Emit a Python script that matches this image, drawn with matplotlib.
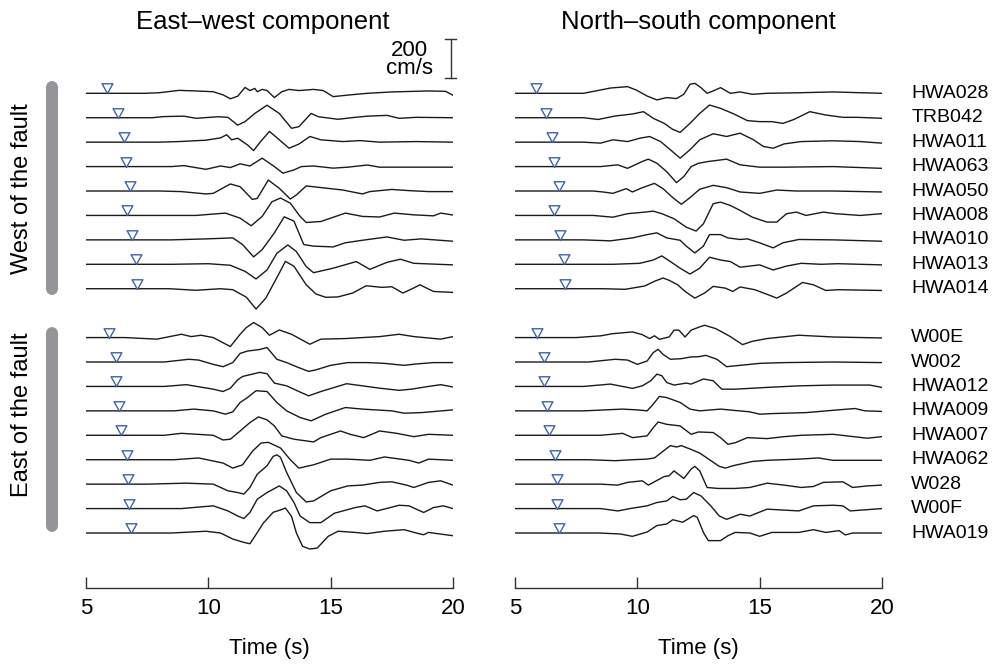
import numpy as np
import matplotlib.pyplot as plt
from matplotlib.lines import Line2D
from matplotlib.path import Path

plt.rcParams['font.family'] = ['Liberation Sans', 'DejaVu Sans']

# station order, top to bottom
west_stations = ['HWA028', 'TRB042', 'HWA011', 'HWA063', 'HWA050',
                 'HWA008', 'HWA010', 'HWA013', 'HWA014']
east_stations = ['W00E', 'W002', 'HWA012', 'HWA009', 'HWA007',
                 'HWA062', 'W028', 'W00F', 'HWA019']
stations = west_stations + east_stations
slots = list(range(9)) + list(range(10, 19))

# P arrival times (s), same order as stations
ew_arrival = [5.87, 6.29, 6.55, 6.62, 6.81, 6.66, 6.89, 7.03, 7.07,
              5.95, 6.23, 6.23, 6.35, 6.42, 6.66, 6.73, 6.76, 6.84]
ns_arrival = [5.86, 6.27, 6.53, 6.59, 6.80, 6.61, 6.84, 7.00, 7.04,
              5.91, 6.19, 6.19, 6.32, 6.38, 6.63, 6.70, 6.73, 6.81]

# velocity traces: (time s, velocity cm/s)
ew_traces = {
    'HWA028': [(5, 0), (7.4, 0), (8.0, 3), (8.8, 15), (9.5, 12), (10.2, 8), (10.6, -8), (10.9, -28),
               (11.2, -15), (11.5, 30), (11.7, 14), (11.9, 25), (12.0, 8), (12.2, 20), (12.4, 14),
               (12.7, -22), (13.0, 8), (13.3, 20), (13.7, 14), (14.3, 20), (14.7, 14), (15.1, -17),
               (15.8, -8), (16.5, 0), (17.5, 7), (19.0, 12), (19.7, 10), (20, -10)],
    'TRB042': [(5, 0), (7.7, 0), (8.2, 6), (9.0, 8), (9.5, -3), (10.4, 5), (10.8, 2), (11.2, -38),
               (11.5, -20), (11.9, 22), (12.4, 64), (12.9, 22), (13.4, -54), (13.7, -46), (14.2, 22),
               (14.5, 5), (15.3, -8), (16.0, 2), (16.5, 8), (17.3, 12), (17.8, -3), (18.5, 2), (20, 0)],
    'HWA011': [(5, 0), (8.0, 0), (8.8, 3), (9.9, 10), (10.5, 22), (10.75, 38), (10.95, 12), (11.2, 20),
               (11.6, -14), (11.85, -43), (12.15, 5), (12.5, 55), (12.9, 12), (13.3, -31), (13.7, -10),
               (14.15, 29), (14.6, 12), (15.5, 3), (16.2, 8), (17, 0), (18.5, 3), (20, 0)],
    'HWA063': [(5, 0), (8.5, 0), (9.0, 5), (9.9, -14), (10.5, 3), (10.9, -5), (11.3, 14), (11.7, 3),
               (12.2, 43), (12.7, 0), (13.05, -34), (13.5, -17), (13.8, 0), (14.3, 3), (15.1, -8),
               (15.7, -3), (16.5, 8), (17, -3), (18.5, -3), (20, -3)],
    'HWA050': [(5, 0), (8.0, 0), (8.9, -3), (9.9, -15), (10.2, -12), (10.9, 36), (11.3, 22), (11.8, -43),
               (12.0, -38), (12.45, 56), (12.9, 14), (13.35, -41), (13.6, -20), (14.0, 26), (14.5, 19),
               (15.5, 5), (16.3, -15), (16.6, -3), (17.5, 8), (18.2, 2), (19, -3), (20, -3)],
    'HWA008': [(5, 0), (8.2, 0), (9.5, 0), (10.7, 12), (11.3, -14), (11.75, -53), (12.2, -5), (12.6, 70),
               (12.95, 89), (13.35, 63), (13.75, -5), (14.0, -36), (14.6, -31), (15.6, 12), (16.3, -5),
               (17, -8), (17.6, 12), (18.4, 3), (19.2, -2), (19.5, 12), (20, 2)],
    'HWA010': [(5, 0), (8.5, 0), (9.9, 5), (11.0, 10), (11.4, -24), (11.85, -87), (12.2, -50), (12.7, 36),
               (13.1, 118), (13.5, 96), (13.9, -24), (14.3, -32), (15.1, -36), (15.6, -15), (16.3, -2),
               (17.3, 15), (18, -2), (18.7, 5), (20, -7)],
    'HWA013': [(5, 0), (8.5, 0), (10.0, 3), (10.9, -5), (11.5, -36), (11.95, -75), (12.4, -29), (12.8, 56),
               (13.25, 99), (13.6, 65), (14.0, -12), (14.3, -43), (15.1, -20), (16.05, 14), (16.6, -26),
               (17.3, 10), (17.85, 26), (18.4, 5), (20, -3)],
    'HWA014': [(5, 0), (8.4, 0), (9.5, -8), (10.5, 0), (11.0, -5), (11.55, -43), (11.95, -104), (12.35, -48),
               (12.9, 80), (13.15, 140), (13.5, 115), (14.0, 20), (14.4, -27), (14.8, -44), (15.3, -42),
               (15.9, -22), (16.45, 15), (17.1, 7), (17.5, 10), (17.95, -22), (18.3, -2), (18.65, 20),
               (19.2, -14), (20, -19)],
    'W00E': [(5, 0), (6.6, 0), (7.9, -8), (8.9, 17), (9.3, 5), (9.7, 12), (10.2, 0), (10.9, -46),
             (11.3, 17), (11.55, 51), (11.85, 77), (12.2, 51), (12.5, 12), (12.9, 39), (13.4, 17),
             (14.15, -34), (14.6, -8), (15.6, -5), (16.3, 0), (17, 5), (17.8, 17), (18.4, 5), (19.5, -8), (20, 5)],
    'W002': [(5, 0), (8.2, 0), (9.2, 14), (9.6, 10), (10.2, -12), (10.6, -24), (11.0, -3), (11.3, 44),
             (11.6, 56), (12.1, 64), (12.4, 74), (12.6, 44), (12.8, 14), (13.2, -3), (13.6, -24), (14.1, -48),
             (14.4, -40), (15.0, -17), (15.7, -3), (16.5, -3), (17.2, -7), (18.0, -17), (18.5, -10),
             (19.2, -3), (20, -3)],
    'HWA012': [(5, 0), (8.2, 0), (9.1, 9), (10.2, -14), (10.6, -26), (10.9, -9), (11.2, 34), (11.4, 51),
               (12.1, 72), (12.4, 65), (12.7, 17), (13.2, 3), (13.7, -26), (14.1, -48), (14.6, -26),
               (15.65, 14), (16.3, 3), (17, -9), (17.8, -20), (18.3, -14), (19, 0), (19.5, 9), (20, -3)],
    'HWA009': [(5, 0), (8.6, 0), (9.4, 9), (10.2, 0), (10.7, -17), (11.0, -5), (11.3, 43), (11.6, 68),
               (11.95, 103), (12.4, 99), (12.8, 43), (13.2, 0), (13.75, -34), (14.2, -51), (14.8, -17),
               (15.6, 17), (16.3, 9), (17.5, 0), (18.0, -12), (18.7, -9), (20, 5)],
    'HWA007': [(5, 0), (8.2, 0), (8.9, 10), (10.2, 0), (10.6, -24), (10.9, -20), (11.3, 22), (11.7, 65),
               (12.05, 94), (12.4, 79), (12.7, 48), (13.0, -3), (13.5, -20), (14.3, -34), (14.6, -12),
               (15.4, 22), (15.8, 5), (16.35, -12), (17.0, 22), (17.7, 10), (18.4, -7), (19.0, 5), (20, 0)],
    'HWA062': [(5, 0), (8.6, 0), (9.6, 9), (10.6, -17), (11.0, -43), (11.4, -26), (11.8, 43), (12.15, 85),
               (12.45, 89), (12.95, 60), (13.35, 0), (13.7, -43), (14.3, -26), (15.0, 3), (15.7, 3),
               (16.6, -3), (17.2, 14), (18.2, -3), (18.6, -17), (19.0, 3), (20, -3)],
    'W028': [(5, 0), (7.5, 0), (9.1, 5), (10.2, 0), (10.8, -34), (11.2, -43), (11.45, -51), (11.7, -17),
             (12.0, 51), (12.4, 94), (12.65, 142), (12.8, 150), (12.95, 137), (13.2, 60), (13.6, -43),
             (14.0, -91), (14.3, -86), (15.0, -34), (15.7, -9), (16.3, -5), (17.0, 9), (17.5, 12),
             (18.1, -5), (18.4, -17), (19.0, 9), (19.5, 17), (20, -5)],
    'W00F': [(5, 0), (8.9, 0), (10.2, 14), (10.8, -12), (11.2, -38), (11.45, -51), (11.7, -20), (12.0, 48),
             (12.4, 82), (12.9, 116), (13.2, 91), (13.5, 31), (13.75, -38), (14.15, -72), (14.6, -72),
             (15.15, -24), (16.0, 5), (16.4, 14), (16.9, -12), (17.8, 17), (18.2, 14), (18.8, -20),
             (19.2, 5), (19.6, 14), (20, 0)],
    'HWA019': [(5, 0), (8.5, 0), (9.9, 9), (10.5, 0), (11.0, -31), (11.45, -48), (11.7, -55), (11.9, -17),
               (12.25, 51), (12.65, 106), (12.95, 118), (13.15, 128), (13.4, 85), (13.6, 0), (13.85, -68),
               (14.15, -82), (14.45, -77), (14.9, -17), (15.3, 9), (16.0, 3), (16.5, -3), (17.2, 9),
               (18.0, 17), (18.5, 0), (18.8, -9), (19.0, 3), (20, -14)],
}

ns_traces = {
    'HWA028': [(5, 0), (7.1, 0), (7.8, 0), (8.5, 17), (8.9, 27), (9.6, 34), (9.95, 17), (10.4, -14),
               (10.8, -34), (11.2, -22), (11.6, -27), (11.9, -5), (12.15, 46), (12.35, 51), (12.6, 29),
               (12.85, 0), (13.1, 12), (13.4, 29), (13.8, 0), (14.2, 7), (14.7, -5), (15.3, 0),
               (16.7, 3), (18, 7), (19.1, 3), (20, 0)],
    'TRB042': [(5, 0), (7.8, 0), (8.4, -9), (9.1, 9), (9.8, 19), (10.25, 31), (10.65, -3), (11.1, -29),
               (11.45, -60), (11.75, -75), (12.15, -29), (12.55, 22), (12.95, 65), (13.4, 48), (13.9, 22),
               (14.5, -15), (15.0, -20), (15.5, -20), (15.95, -29), (16.4, -9), (17.05, 31), (17.7, 14),
               (18.4, 2), (19, 2), (20, -3)],
    'HWA011': [(5, 0), (7.8, 0), (8.5, -5), (9.0, 12), (9.6, 3), (10.1, 20), (10.5, 29), (10.95, 3),
               (11.35, -39), (11.75, -82), (12.15, -39), (12.55, 12), (13.1, 43), (13.65, 29), (14.2, 46),
               (14.75, 12), (15.15, -22), (15.55, -31), (16.0, -9), (16.7, 3), (18, 7), (19.1, 3), (20, -5)],
    'HWA063': [(5, 0), (8.5, 0), (9.2, 9), (9.6, -9), (10.2, 26), (10.45, 38), (10.8, 17), (11.2, -26),
               (11.6, -82), (11.9, -51), (12.2, 0), (12.5, 17), (12.9, 26), (13.65, 38), (14.2, 9),
               (15.0, -3), (16.0, -3), (18, 0), (20, -9)],
    'HWA050': [(5, 0), (8.2, 0), (8.6, -5), (9.0, -12), (9.55, 12), (9.8, -5), (10.2, 17), (10.7, 39),
               (11.05, 12), (11.45, -34), (11.8, -68), (12.15, -34), (12.55, 9), (13.1, 29), (13.65, 17),
               (14.2, -5), (15.0, -12), (15.7, 5), (16.5, 0), (18, 0), (20, -5)],
    'HWA008': [(5, 0), (8.2, 0), (9.0, -9), (9.6, 9), (10.3, 17), (10.65, 22), (11.0, 9), (11.5, -17),
               (12.0, -60), (12.4, -80), (12.7, -43), (13.1, 60), (13.4, 68), (13.8, 51), (14.2, 26),
               (14.7, -9), (15.3, -34), (15.7, -34), (16.1, 9), (16.5, 17), (16.9, 0), (17.6, 17),
               (18.1, 9), (19.1, 0), (20, 9)],
    'HWA010': [(5, 0), (7.8, 0), (8.9, -5), (9.8, 10), (10.4, 27), (10.8, 36), (11.2, 10), (11.75, -2),
               (12.0, -32), (12.35, -67), (12.7, -32), (12.95, 27), (13.4, 27), (13.7, 10), (14.2, 2),
               (14.5, 5), (15.0, -15), (15.55, -41), (15.95, -15), (16.6, 2), (18, 0), (20, -7)],
    'HWA013': [(5, 0), (8.0, 0), (9.0, 0), (10.1, 5), (10.65, 22), (11.0, 43), (11.35, 14), (11.75, -20),
               (12.15, -50), (12.55, -20), (12.95, 36), (13.4, 22), (13.8, 14), (14.2, -15), (15.0, -3),
               (15.55, -29), (16.1, -9), (16.7, 5), (17.5, 0), (18.2, 3), (20, -3)],
    'HWA014': [(5, 0), (8.6, 0), (9.5, -3), (10.3, 14), (10.7, 38), (11.05, 55), (11.3, 43), (11.65, 20),
               (11.95, -14), (12.35, -48), (12.75, -22), (13.1, 12), (13.6, 3), (13.9, -14), (14.2, 9),
               (14.8, -5), (15.35, -31), (15.7, -48), (16.1, -22), (16.75, 32), (17.2, 20), (17.7, -9),
               (18.2, -5), (20, -9)],
    'W00E': [(5, 0), (7.5, 0), (8.5, 9), (9.0, 20), (9.8, 29), (10.2, 15), (10.5, -5), (10.7, 9),
             (10.9, -9), (11.3, 3), (11.5, 38), (11.7, 38), (11.95, 3), (12.2, 38), (12.55, 55),
             (12.75, 63), (13.2, 46), (13.75, 9), (14.3, -36), (14.7, -19), (15.3, -5), (16.6, 12),
             (18, 3), (20, -2)],
    'W002': [(5, 0), (8.0, 0), (9.1, 14), (9.6, 10), (10.0, -12), (10.4, 5), (10.65, 48), (10.85, 65),
             (11.05, 39), (11.35, 14), (11.8, 17), (12.2, 26), (12.5, 27), (12.8, 34), (13.25, 14),
             (13.65, -24), (14.2, -17), (15.0, -7), (16.0, -3), (18, 0), (20, -3)],
    'HWA012': [(5, 0), (7.8, 0), (8.9, 12), (9.8, -10), (10.2, 3), (10.55, 29), (10.8, 63), (11.0, 55),
               (11.2, 20), (11.5, 7), (12.0, 17), (12.2, 12), (12.7, 38), (13.1, 29), (13.45, -14),
               (14.0, -14), (15.3, -5), (16.6, 3), (18, 7), (19.5, 7), (20, -5)],
    'HWA009': [(5, 0), (7.8, 0), (9.4, 9), (10.0, 5), (10.4, 0), (10.65, 34), (10.9, 74), (11.2, 68),
               (11.75, 43), (12.15, 9), (12.55, 0), (13.4, 9), (14.6, -5), (15.0, -17), (15.5, -14),
               (16.9, -9), (18.2, 5), (18.9, 12), (19.3, 0), (20, -3)],
    'HWA007': [(5, 0), (8.5, 0), (9.4, 10), (9.8, -12), (10.4, -3), (10.65, 39), (10.85, 68), (11.2, 56),
               (11.75, 48), (12.2, 5), (12.5, 17), (13.1, 14), (13.4, -12), (13.7, -46), (14.0, -38),
               (14.5, -12), (15.3, -17), (16.0, -7), (16.7, 0), (18.0, 5), (19.4, -15), (20, -7)],
    'HWA062': [(5, 0), (8.0, 0), (9.1, -5), (9.8, 0), (10.4, 3), (10.7, 9), (11.05, 43), (11.35, 72),
               (11.6, 65), (11.8, 72), (12.15, 55), (12.55, 34), (12.95, 0), (13.35, -34), (13.6, -43),
               (13.9, -31), (14.7, -9), (15.3, -3), (16.6, 3), (17.4, 9), (18, -3), (20, -3)],
    'W028': [(5, 0), (8.5, 0), (9.2, -5), (9.6, 9), (10.2, 17), (10.45, -5), (10.7, 12), (11.1, 39),
             (11.3, 43), (11.5, 68), (11.9, 29), (12.2, 77), (12.35, 91), (12.55, 68), (12.85, -17),
             (13.3, -22), (14.0, -22), (14.6, -17), (15.3, 5), (16.0, -5), (16.7, -17), (17.2, -12),
             (17.6, 9), (18.4, 12), (18.8, -17), (19.4, -9), (20, -5)],
    'W00F': [(5, 0), (8.5, 0), (9.2, -12), (9.7, 0), (10.4, 14), (10.8, 31), (11.2, 39), (11.45, 62),
             (11.75, 45), (12.0, 48), (12.3, 82), (12.6, 65), (13.0, 14), (13.35, -38), (13.65, -55),
             (14.2, -29), (14.6, -38), (15.3, -3), (16.6, -12), (17.2, 14), (18.0, 17), (18.4, 14),
             (18.7, -12), (20, 0)],
    'HWA019': [(5, 0), (8.4, 0), (9.3, -5), (9.8, -17), (10.4, 5), (10.8, 38), (11.2, 46), (11.45, 68),
               (11.85, 55), (12.3, 89), (12.45, 80), (12.7, 3), (12.9, -39), (13.4, -39), (13.7, -14),
               (14.0, 3), (14.6, 0), (15.0, -17), (15.5, 3), (16.6, 3), (17.2, 17), (17.7, 3),
               (18.25, 12), (18.5, -10), (18.8, 0), (20, 0)],
}

spacing = 125.0        # cm/s between neighbouring traces
W, H = 998, 666        # figure size in pixels

fig = plt.figure(figsize=(W / 100, H / 100), dpi=100)

# axes placed in pixel terms: traces from y=93 (top) to y=533, axis line at y=588
px_per_unit = (533.0 - 93.3) / (18 * spacing)
y_bot = -(588.0 - 93.3) / px_per_unit
y_top = (93.3 - 30.0) / px_per_unit
ax_b = (H - 588.0) / H
ax_h = (588.0 - 30.0) / H

ax_ew = fig.add_axes([86 / W, ax_b, 367 / W, ax_h])
ax_ns = fig.add_axes([515 / W, ax_b, 367 / W, ax_h])

# downward triangle with its tip on the trace
tri = Path([(-0.5, 0.9), (0.5, 0.9), (0, 0), (-0.5, 0.9)],
           [Path.MOVETO, Path.LINETO, Path.LINETO, Path.CLOSEPOLY])

for ax, traces, arrivals in [(ax_ew, ew_traces, ew_arrival), (ax_ns, ns_traces, ns_arrival)]:
    for name, slot, t0 in zip(stations, slots, arrivals):
        off = -slot * spacing
        t, v = zip(*traces[name])
        ax.plot(t, np.array(v) + off, color='#1a1a1a', lw=1.0, zorder=2)
        ax.plot([t0], [off], marker=tri, ms=14, mfc='white', mec='#3b62b4',
                mew=1.0, ls='none', zorder=3)
    ax.set_xlim(5, 20)
    ax.set_ylim(y_bot, y_top)
    for s in ['top', 'left', 'right']:
        ax.spines[s].set_visible(False)
    ax.spines['bottom'].set_color('#333333')
    ax.spines['bottom'].set_linewidth(1.0)
    ax.set_yticks([])
    ax.set_xticks([5, 10, 15, 20])
    ax.tick_params(axis='x', direction='in', length=8, width=1.0, color='#333333',
                   labelsize=16, pad=7)
    ax.set_xlabel('Time (s)', fontsize=16, labelpad=14)
    ax.patch.set_visible(False)

# station names at the right
for name, slot in zip(stations, slots):
    ax_ns.text(21.2, -slot * spacing, name, fontsize=14, ha='left', va='center', clip_on=False)

# 200 cm/s scale bar
bar_t = 19.9
ax_ew.plot([bar_t, bar_t], [78, 278], color='#333333', lw=1.0, clip_on=False)
ax_ew.plot([bar_t - 0.22, bar_t + 0.22], [78, 78], color='#333333', lw=1.0, clip_on=False)
ax_ew.plot([bar_t - 0.22, bar_t + 0.22], [278, 278], color='#333333', lw=1.0, clip_on=False)
ax_ew.text(19.18, 172, '200\ncm/s', fontsize=16, ha='right', va='center',
           multialignment='center', linespacing=0.85)

# titles
fig.text(263 / W, 1 - 22 / H, 'East\u2013west component', fontsize=18.5, ha='center', va='center')
fig.text(698 / W, 1 - 22 / H, 'North\u2013south component', fontsize=18.5, ha='center', va='center')

# grey group bars and labels on the left
for y0, y1 in [(87, 289), (333, 526)]:
    fig.add_artist(Line2D([52 / W, 52 / W], [1 - y0 / H, 1 - y1 / H], color='#939598',
                          lw=8.6, solid_capstyle='round'))
fig.text(22 / W, 1 - 189 / H, 'West of the fault', fontsize=17, rotation=90, ha='center', va='center')
fig.text(22 / W, 1 - 415 / H, 'East of the fault', fontsize=17, rotation=90, ha='center', va='center')

fig.savefig('out.png', dpi=100)
